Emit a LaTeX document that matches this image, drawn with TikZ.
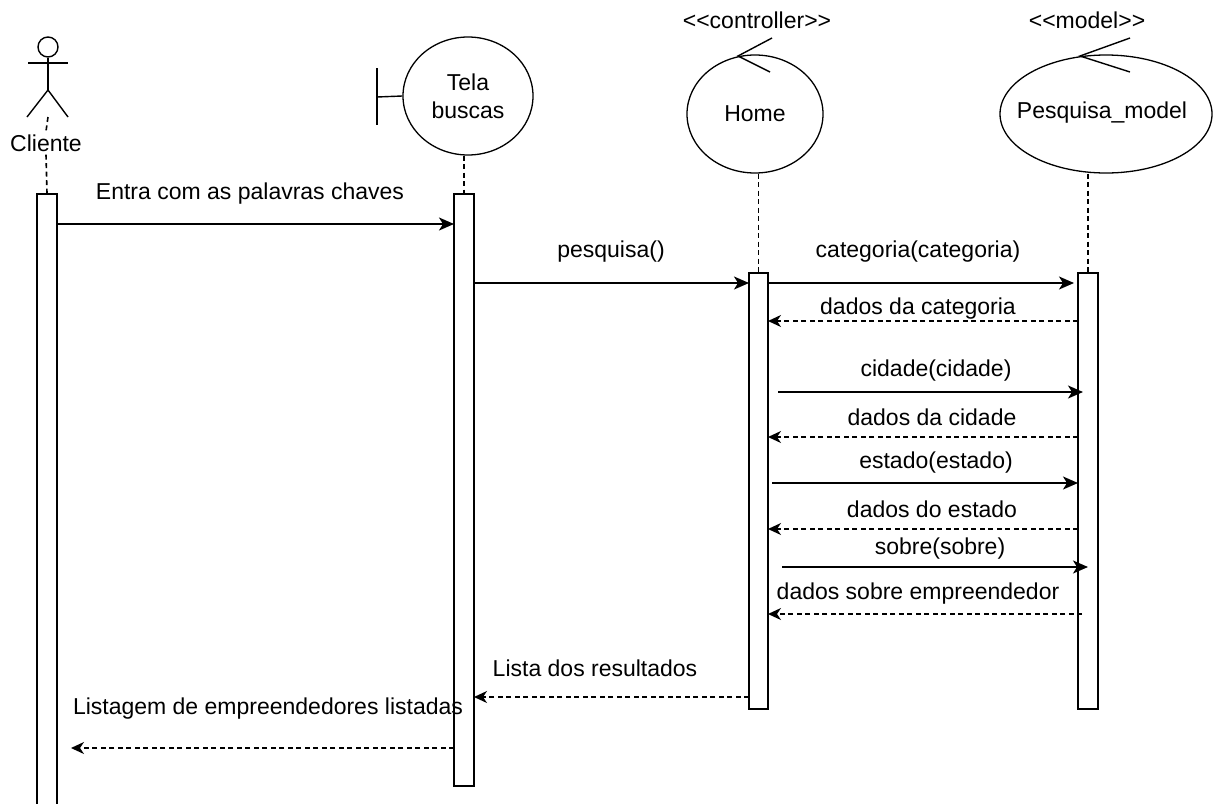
\documentclass[tikz,border=0pt]{standalone}
\usepackage{fontspec}
\setmainfont{Liberation Sans}
\usetikzlibrary{arrows.meta,shapes.geometric}
\begin{document}
\begin{tikzpicture}[x=1pt,y=-1pt,
  every node/.style={font=\fontsize{23}{28}\selectfont, inner sep=0pt},
  figline/.style={line width=1.4pt},
  lifeline/.style={line width=1.6pt, dash pattern=on 5pt off 3.5pt},
  actbox/.style={draw, line width=1.8pt, fill=white, anchor=north, minimum width=20pt},
  entity/.style={draw, ellipse, line width=1.3pt},
  msg/.style={line width=1.8pt, -{Stealth[length=15pt,width=13pt,inset=4pt]}},
  ret/.style={line width=1.6pt, dash pattern=on 5pt off 3.5pt, -{Stealth[length=13pt,width=12pt,inset=4pt]}}
]
\useasboundingbox (0,0) rectangle (1214,803);
\fill[white] (0,0) rectangle (1214,803);

% actor
\node (head) [draw, circle, figline, minimum size=20pt] at (48,47) {};
\coordinate (hip) at (48,90);
\coordinate (larm) at (28,63);
\coordinate (rarm) at (68,63);
\coordinate (lfoot) at (27,117);
\coordinate (rfoot) at (68,117);
\coordinate (feet) at (48,117);
\draw[figline] (head.south) -- (hip);
\draw[figline] (larm) -- (rarm);
\draw[figline] (lfoot) -- (hip) -- (rfoot);
\node[inner sep=3pt] (cliente) at (46,143) {Cliente};

% entities
\node (tela) [entity, minimum width=130pt, minimum height=118pt, align=center] at (468,96) {Tela\\buscas};
\coordinate (bt) at (377,68);
\coordinate (bb) at (377,125);
\coordinate (bm) at (377,97);
\draw[figline] (bt) -- (bb);
\draw[figline] (bm) -- (tela.west);

\node (stc) at (757,20) {<\kern0pt<controller>\kern0pt>};
\node (home) [entity, minimum width=136pt, minimum height=118pt] at (755,114) {Home};
\coordinate (ha1) at (772,38);
\coordinate (ha2) at (738,56);
\coordinate (ha3) at (770,72);
\draw[figline] (ha1) -- (ha2) -- (ha3);

\node (stm) at (1087,20) {<\kern0pt<model>\kern0pt>};
\node (pm) [entity, minimum width=212pt, minimum height=118pt] at (1106,114) {};
\node (pmtext) at (1102,113) {Pesquisa\_model};
\coordinate (pa1) at (1130,38);
\coordinate (pa2) at (1080,56);
\coordinate (pa3) at (1130,72);
\draw[figline] (pa1) -- (pa2) -- (pa3);

% activation boxes
\node (clbox) [actbox, minimum height=630pt] at (47,193) {};
\node (telabox) [actbox, minimum height=592pt] at (464,193) {};
\node (homebox) [actbox, minimum width=19pt, minimum height=436pt] at (758.5,272) {};
\node (pmbox) [actbox, minimum height=436pt] at (1088,272) {};

% lifelines
\draw[lifeline] (feet) -- (cliente.north);
\draw[lifeline] (cliente.south) -- (clbox.north);
\draw[lifeline] (tela.south -| telabox.north) -- (telabox.north);
\draw[lifeline] (home.south -| homebox.north) -- (homebox.north);
\draw[lifeline] (pm.south -| pmbox.north) -- (pmbox.north);

% message end points
\coordinate (m1a) at (57,224);   \coordinate (m1b) at (454,224);
\coordinate (m2a) at (474,283);  \coordinate (m2b) at (749,283);
\coordinate (m3a) at (768,283);  \coordinate (m3b) at (1074,283);
\coordinate (m4a) at (1078,321); \coordinate (m4b) at (768,321);
\coordinate (m5a) at (778,392);  \coordinate (m5b) at (1083,392);
\coordinate (m6a) at (1078,437); \coordinate (m6b) at (768,437);
\coordinate (m7a) at (772,483);  \coordinate (m7b) at (1078,483);
\coordinate (m8a) at (1078,529); \coordinate (m8b) at (768,529);
\coordinate (m9a) at (782,567);  \coordinate (m9b) at (1088,567);
\coordinate (m10a) at (1082,614); \coordinate (m10b) at (768,614);
\coordinate (m11a) at (749,697); \coordinate (m11b) at (474,697);
\coordinate (m12a) at (454,748); \coordinate (m12b) at (71,748);

\draw[msg] (m1a) -- (m1b);
\draw[msg] (m2a) -- (m2b);
\draw[msg] (m3a) -- (m3b);
\draw[ret] (m4a) -- (m4b);
\draw[msg] (m5a) -- (m5b);
\draw[ret] (m6a) -- (m6b);
\draw[msg] (m7a) -- (m7b);
\draw[ret] (m8a) -- (m8b);
\draw[msg] (m9a) -- (m9b);
\draw[ret] (m10a) -- (m10b);
\draw[ret] (m11a) -- (m11b);
\draw[ret] (m12a) -- (m12b);

% labels
\node (l1) at (250,194) {Entra com as palavras chaves};
\node (l2) at (611,252) {pesquisa()};
\node (l3) at (918,252) {categoria(categoria)};
\node (l4) at (918,309) {dados da categoria};
\node (l5) at (936,371) {cidade(cidade)};
\node (l6) at (932,417) {dados da cidade};
\node (l7) at (936,463) {estado(estado)};
\node (l8) at (932,509) {dados do estado};
\node (l9) at (940,549) {sobre(sobre)};
\node (l10) at (918,594) {dados sobre empreendedor};
\node (l11) at (595,668) {Lista dos resultados};
\node (l12) at (268,709) {Listagem de empreendedores listadas};
\end{tikzpicture}
\end{document}
